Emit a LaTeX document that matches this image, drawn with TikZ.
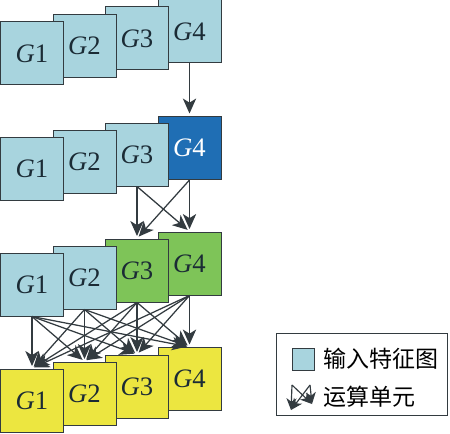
\documentclass[tikz,border=0pt]{standalone}
\usepackage{fontspec}
\setmainfont{Liberation Serif}
\newfontfamily\cjk{Noto Sans CJK SC}
\usetikzlibrary{positioning,arrows.meta}
\definecolor{mapblue}{HTML}{A8D4DE}
\definecolor{mapdark}{HTML}{1F6EB4}
\definecolor{mapgreen}{HTML}{7EC458}
\definecolor{mapyellow}{HTML}{ECE640}
\definecolor{edgegray}{HTML}{333B40}
\definecolor{textgray}{HTML}{1B2B35}
\tikzstyle{fmap} = [draw=edgegray, rectangle, fill=mapblue, minimum size=37.8pt, inner sep=0pt, line width=0.6pt, text=textgray, font=\fontsize{16}{18}\selectfont]
\tikzstyle{line} = [draw=edgegray, line width=0.75pt, -{Stealth[length=9pt,width=8pt,inset=2.5pt]}, shorten >=1.5pt]
\tikzstyle{keyline} = [draw=edgegray, line width=0.7pt, -{Stealth[length=7pt,width=6pt,inset=2pt]}]
\tikzstyle{keytext} = [anchor=west, inner sep=0pt, font=\cjk\fontsize{13.8}{15}\selectfont]

\begin{document}
\begin{tikzpicture}[x=0.6pt, y=-0.6pt]
    \useasboundingbox (0,0) rectangle (450,433);
    % Input maps
    \node [fmap] (in-g4) at (189.5,31.5) {\textit{G}4};
    \node [fmap] (in-g3) at (137,38.5) {\textit{G}3};
    \node [fmap] (in-g2) at (84.5,46) {\textit{G}2};
    \node [fmap] (in-g1) at (32,53.5) {\textit{G}1};
    % First step
    \node [fmap, fill=mapdark, text=white] (s1-g4) at (189.5,148) {\textit{G}4};
    \node [fmap] (s1-g3) at (137,154.5) {\textit{G}3};
    \node [fmap] (s1-g2) at (84.5,161.5) {\textit{G}2};
    \node [fmap] (s1-g1) at (32,168.5) {\textit{G}1};
    % Second step
    \node [fmap, fill=mapgreen] (s2-g4) at (189.5,263.5) {\textit{G}4};
    \node [fmap, fill=mapgreen] (s2-g3) at (137,270.5) {\textit{G}3};
    \node [fmap] (s2-g2) at (84.5,277.5) {\textit{G}2};
    \node [fmap] (s2-g1) at (32,284.5) {\textit{G}1};
    % Output maps
    \node [fmap, fill=mapyellow] (out-g4) at (189.5,379) {\textit{G}4};
    \node [fmap, fill=mapyellow] (out-g3) at (137,386.5) {\textit{G}3};
    \node [fmap, fill=mapyellow] (out-g2) at (84.5,393.5) {\textit{G}2};
    \node [fmap, fill=mapyellow] (out-g1) at (32,400.5) {\textit{G}1};
    % Draw edges
    \path [line] (in-g4.south) -- (s1-g4.north);
    \foreach \i in {3,4}
        \foreach \j in {3,4}
            \path [line] (s1-g\i.south) -- (s2-g\j.north);
    \foreach \i in {1,...,4}
        \foreach \j in {1,...,4}
            \path [line] (s2-g\i.south) -- (out-g\j.north);
    % Legend
    \node [draw=edgegray, line width=0.6pt, rectangle, minimum width=102.6pt, minimum height=49.2pt, inner sep=0pt] (legend) at (361.5,374) {};
    \node [fmap, minimum size=13.2pt] (key-map) at (303,359) {};
    \node [keytext] (key-map-text) at (323,359) {输入特征图};
    \coordinate (key-a) at (292,385);
    \coordinate (key-b) at (310,385);
    \coordinate (key-c) at (291,410);
    \coordinate (key-d) at (312,404);
    \path [keyline] (key-a) -- (key-c);
    \path [keyline] (key-a) -- (key-d);
    \path [keyline] (key-b) -- (key-c);
    \path [keyline] (key-b) -- (key-d);
    \node [keytext] (key-op-text) at (323,397) {运算单元};
\end{tikzpicture}
\end{document}
